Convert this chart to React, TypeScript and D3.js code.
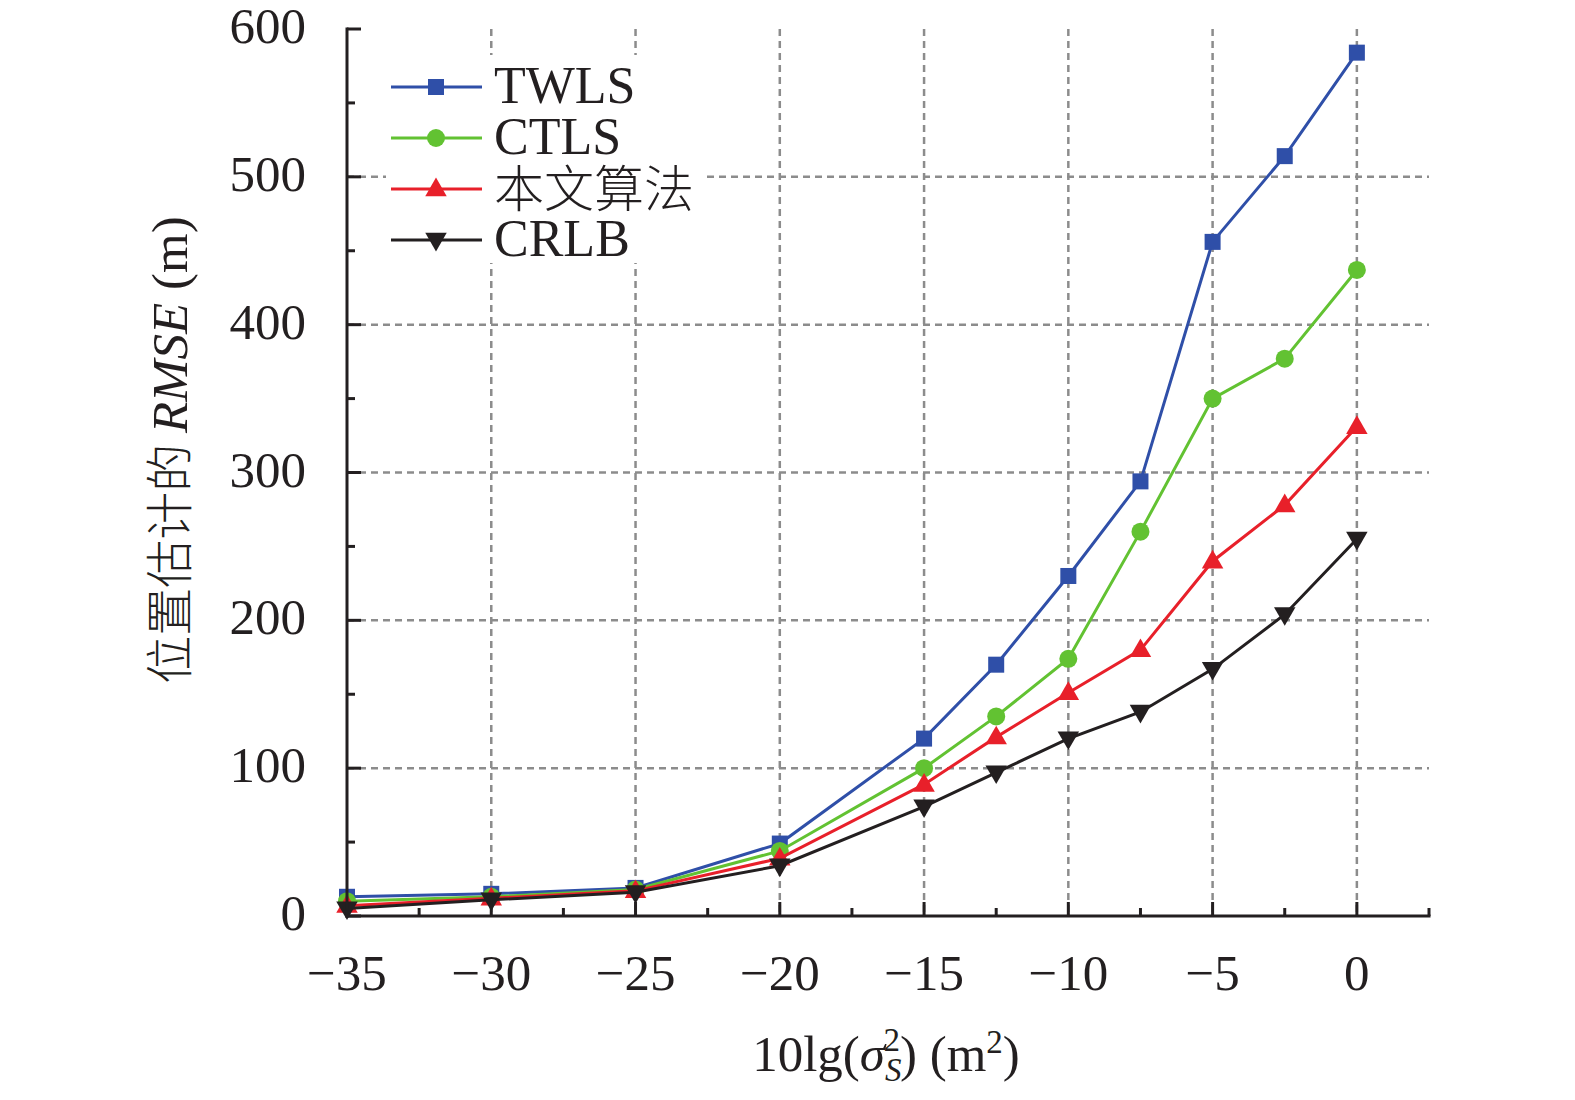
import * as d3 from "d3";

const xValues = [-35, -30, -25, -20, -15, -12.5, -10, -7.5, -5, -2.5, 0];
const twls = [13, 15, 19, 49, 120, 170, 230, 294, 456, 514, 584];
const ctls = [10, 13, 18, 44, 100, 135, 174, 260, 350, 377, 437];
const proposed = [7, 12, 17, 39, 89, 121, 151, 180, 240, 278, 331];
const crlb = [5, 11, 16, 34, 74, 97, 120, 138, 167, 204, 255];

const xTicks = [-35, -30, -25, -20, -15, -10, -5, 0];
const xMinorTicks = [-32.5, -27.5, -22.5, -17.5, -12.5, -7.5, -2.5, 2.5];
const yTicks = [0, 100, 200, 300, 400, 500, 600];
const yMinorTicks = [50, 150, 250, 350, 450, 550];

const series = [
  { name: "TWLS", values: twls, color: "#2f4fa8", marker: "square" },
  { name: "CTLS", values: ctls, color: "#62c232", marker: "circle" },
  { name: "本文算法", values: proposed, color: "#e8202a", marker: "triangle" },
  { name: "CRLB", values: crlb, color: "#231f20", marker: "down" },
];

const W = 1575;
const H = 1100;
const serif = "'Liberation Serif', 'Times New Roman', serif";
const cjk = "'Noto Sans CJK SC', serif";
const ink = "#231f20";

function Marker({ type, x, y, color }: { type: string; x: number; y: number; color: string }) {
  if (type === "square") return <rect x={x - 8} y={y - 8} width={16} height={16} fill={color} />;
  if (type === "circle") return <circle cx={x} cy={y} r={9} fill={color} />;
  const sym = d3.symbol().type(d3.symbolTriangle).size(200)();
  const rot = type === "down" ? 180 : 0;
  const dy = type === "down" ? -1 : 1;
  return <path d={sym ?? ""} transform={`translate(${x},${y + dy}) rotate(${rot})`} fill={color} />;
}

export default function App() {
  const x = d3.scaleLinear().domain([-35, 2.5]).range([347, 1429]);
  const y = d3.scaleLinear().domain([0, 600]).range([916, 29]);
  const line = d3.line<number>().x((_, i) => x(xValues[i])).y((d) => y(d));

  return (
    <svg
      width={W}
      height={H}
      style={{ position: "absolute", left: 0, top: 0, display: "block" }}
      fontFamily={serif}
    >
      <rect width={W} height={H} fill="#fff" />
      {/* grid */}
      <g stroke="#8c8c8c" strokeWidth={2.5} strokeDasharray="7,5">
        {xTicks.slice(1).map((t) => (
          <line key={"gx" + t} x1={x(t)} x2={x(t)} y1={y(600)} y2={y(0)} />
        ))}
        {yTicks.slice(1, 6).map((t) => (
          <line key={"gy" + t} x1={x(-35)} x2={x(2.5)} y1={y(t)} y2={y(t)} />
        ))}
      </g>
      {/* legend background */}
      <rect x={386} y={55} width={317} height={208} fill="#fff" />
      {/* series */}
      {series.map((s) => (
        <g key={s.name}>
          <path d={line(s.values) ?? ""} fill="none" stroke={s.color} strokeWidth={3} />
          {s.values.map((v, i) => (
            <Marker key={i} type={s.marker} x={x(xValues[i])} y={y(v)} color={s.color} />
          ))}
        </g>
      ))}
      {/* axes */}
      <g stroke={ink} strokeWidth={3}>
        <line x1={x(-35)} x2={x(-35)} y1={y(600) - 1.5} y2={y(0) + 1.5} />
        <line x1={x(-35) - 1.5} x2={x(2.5) + 1.5} y1={y(0)} y2={y(0)} />
        {xTicks.map((t) => (
          <line key={"xt" + t} x1={x(t)} x2={x(t)} y1={y(0)} y2={y(0) - 14} />
        ))}
        {xMinorTicks.map((t) => (
          <line key={"xm" + t} x1={x(t)} x2={x(t)} y1={y(0)} y2={y(0) - 8} />
        ))}
        {yTicks.map((t) => (
          <line key={"yt" + t} x1={x(-35)} x2={x(-35) + 14} y1={y(t)} y2={y(t)} />
        ))}
        {yMinorTicks.map((t) => (
          <line key={"ym" + t} x1={x(-35)} x2={x(-35) + 8} y1={y(t)} y2={y(t)} />
        ))}
      </g>
      {/* tick labels */}
      <g fontSize={51} fill={ink}>
        {xTicks.map((t) => (
          <text key={"xl" + t} x={x(t)} y={990} textAnchor="middle">
            {t < 0 ? "\u2212" + Math.abs(t) : t}
          </text>
        ))}
        {yTicks.map((t) => (
          <text key={"yl" + t} x={306} y={y(t) + 14} textAnchor="end">
            {t}
          </text>
        ))}
      </g>
      {/* legend */}
      {series.map((s, i) => {
        const ly = 87 + i * 51;
        const isCjk = s.name === "本文算法";
        return (
          <g key={"lg" + s.name}>
            <line x1={391} x2={482} y1={ly} y2={ly} stroke={s.color} strokeWidth={3} />
            <Marker type={s.marker} x={436} y={ly} color={s.color} />
            <text
              x={494}
              y={ly + (isCjk ? 18 : 16)}
              fontSize={isCjk ? 50 : 52}
              fill={ink}
              fontFamily={isCjk ? cjk : serif}
              fontWeight={isCjk ? 300 : 400}
            >
              {s.name}
            </text>
          </g>
        );
      })}
      {/* axis titles */}
      <text x={886} y={1071} fontSize={51} textAnchor="middle" fill={ink}>
        10lg(<tspan fontStyle="italic">σ</tspan>
        <tspan fontStyle="italic" fontSize={33} dy={10}>S</tspan>
        <tspan fontSize={33} dx={-18} dy={-30}>2</tspan>
        <tspan dy={20}>) (m</tspan>
        <tspan fontSize={33} dy={-18}>2</tspan>
        <tspan dy={18}>)</tspan>
      </text>
      <text transform="translate(187,450) rotate(-90)" fontSize={51} textAnchor="middle" fill={ink}>
        <tspan fontFamily={cjk} fontWeight={300} fontSize={48}>位置估计的 </tspan>
        <tspan fontStyle="italic">RMSE</tspan>
        <tspan> (m)</tspan>
      </text>
    </svg>
  );
}
